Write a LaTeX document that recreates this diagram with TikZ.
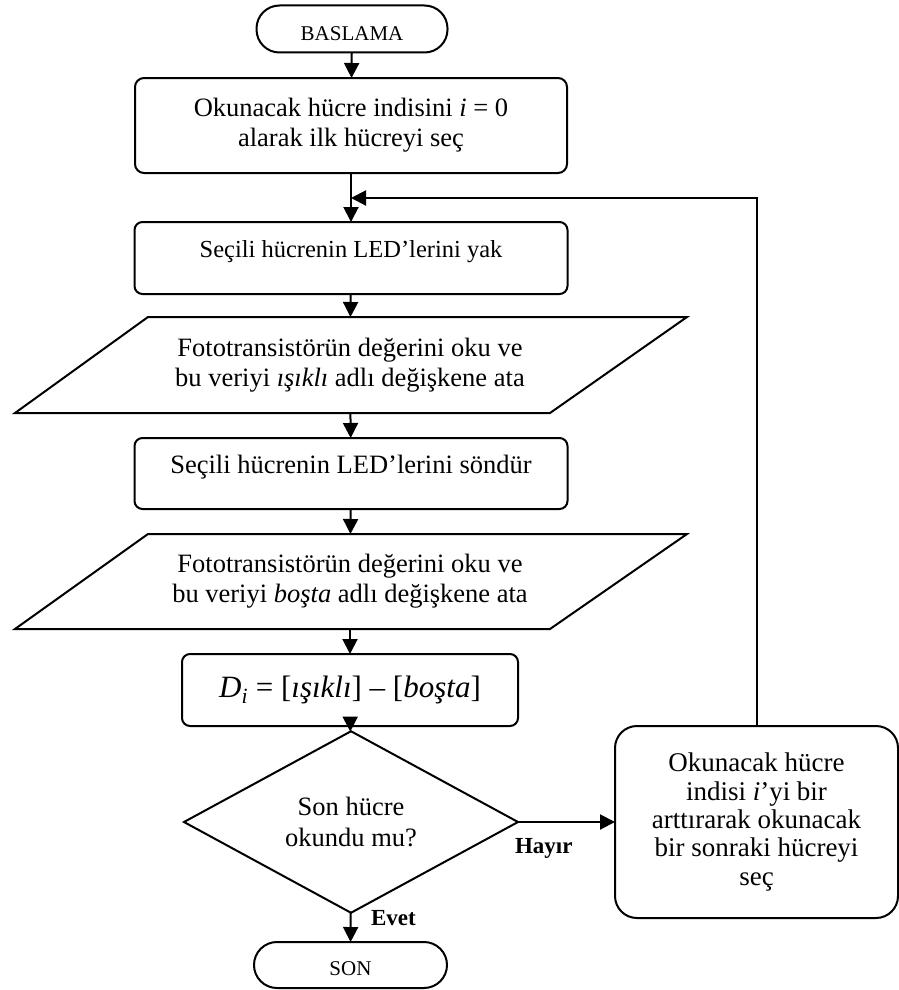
\documentclass[tikz,border=0pt]{standalone}
\usepackage{fontspec}
\setmainfont{Liberation Serif}
\usetikzlibrary{arrows.meta,shapes.geometric,calc}

\begin{document}
\begin{tikzpicture}[x=1pt,y=-1pt,
  every node/.style={inner sep=0pt,outer sep=0pt},
  lw/.style={line width=2pt},
  flow/.style={lw,-{Triangle[length=15pt,width=15pt]}},
  body/.style={font=\fontsize{26.5}{30}\selectfont},
  procbox/.style={draw,lw,rounded corners=9pt,align=center,body},
  term/.style={draw,lw,rounded corners=23pt,font=\fontsize{21}{24}\selectfont},
  iobox/.style={align=center,body,minimum height=96pt,minimum width=300pt},
  decide/.style={draw,lw,diamond,align=center,font=\fontsize{26.5}{31}\selectfont},
  tag/.style={font=\fontsize{23}{26}\selectfont\bfseries,anchor=base west},
  outline/.style={lw,line join=miter}
]
\useasboundingbox (0,0) rectangle (899,990);

% terminals
\node[term,minimum width=191pt,minimum height=47pt] (start) at (352,29)
  {\raisebox{-5pt}[\height][\depth]{BASLAMA}};
\node[term,minimum width=193pt,minimum height=46pt] (stop) at (350.5,965)
  {\raisebox{-4pt}[\height][\depth]{SON}};

% process steps
\node[procbox,minimum width=432pt,minimum height=95pt] (init) at (351,125.5)
  {Okunacak hücre indisini \textit{i} = 0\\alarak ilk hücreyi seç};
\node[procbox,rounded corners=8pt,minimum width=433pt,minimum height=72pt,
  font=\fontsize{24.5}{28}\selectfont] (ledon) at (351,258)
  {\raisebox{6.5pt}[\height][\depth]{Seçili hücrenin LED’lerini yak}};

% input: lit reading
\node[iobox] (readlit) at (350,365)
  {Fototransistörün değerini oku ve\\bu veriyi \textit{ışıklı} adlı değişkene ata};
\draw[outline] ($(readlit.center)+(-202,-48)$) -- ($(readlit.center)+(337,-48)$)
  -- ($(readlit.center)+(200,48)$) -- ($(readlit.center)+(-335,48)$) -- cycle;

\node[procbox,rounded corners=8pt,minimum width=433pt,minimum height=71pt] (ledoff) at (351,473.5)
  {\raisebox{6.5pt}[\height][\depth]{Seçili hücrenin LED’lerini söndür}};

% input: idle reading
\node[iobox,minimum height=95pt] (readidle) at (350,581.5)
  {Fototransistörün değerini oku ve\\bu veriyi \textit{boşta} adlı değişkene ata};
\draw[outline] ($(readidle.center)+(-202,-47.5)$) -- ($(readidle.center)+(337,-47.5)$)
  -- ($(readidle.center)+(200,47.5)$) -- ($(readidle.center)+(-335,47.5)$) -- cycle;

% difference
\node[procbox,rounded corners=8pt,minimum width=336pt,minimum height=72pt,
  font=\fontsize{31}{34}\selectfont] (diff) at (350,690)
  {\textit{D}\textsubscript{\textit{i}} = [\textit{ışıklı}] – [\textit{boşta}]};

% decision
\node[decide,minimum width=334pt,minimum height=142pt] (last) at (351,822)
  {Son hücre\\okundu mu?};

% next cell
\node[procbox,rounded corners=22pt,minimum width=283pt,minimum height=192pt,
  font=\fontsize{27}{28.3}\selectfont] (next) at (756.5,822)
  {Okunacak hücre\\indisi \textit{i}’yi bir\\arttırarak okunacak\\bir sonraki hücreyi\\seç};

% connectors
\coordinate (join) at (351,198);
\draw[flow] (start) -- (init);
\draw[flow] (init) -- (ledon);
\draw[flow] (ledon) -- (readlit);
\draw[flow] (readlit) -- (ledoff);
\draw[flow] (ledoff) -- (readidle);
\draw[flow] (readidle) -- (diff);
\draw[flow] (diff) -- (last);
\draw[flow] (last) -- (stop);
\draw[flow] (last.east) -- (next.west);
\draw[flow] (next.north) |- (join);

% branch labels
\node[tag] (no) at (515,853) {Hayır};
\node[tag] (yes) at (371,925) {Evet};
\end{tikzpicture}
\end{document}
